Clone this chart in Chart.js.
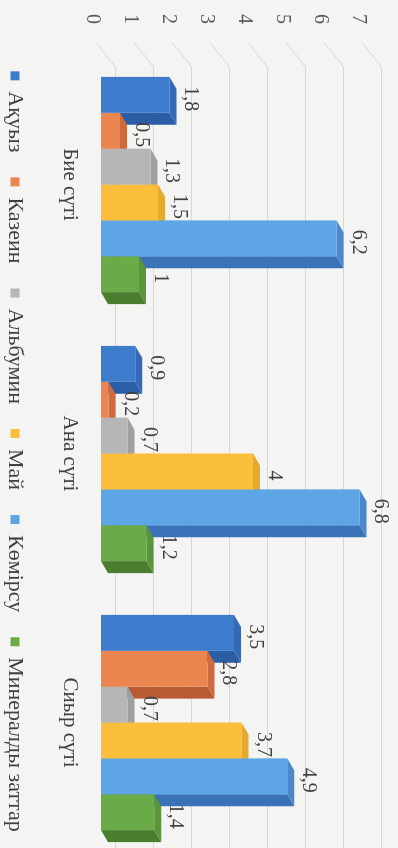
<!DOCTYPE html>
<html>
<head>
<meta charset="utf-8">
<script src="https://cdn.jsdelivr.net/npm/chart.js@4"></script>
<style>
  html, body { margin: 0; padding: 0; background: #f4f4f2; }
  body { width: 398px; height: 848px; overflow: hidden; position: relative; }
  /* the source is a photo of the chart turned a quarter clockwise */
  #wrap { position: absolute; left: 0; top: 0; width: 903px; height: 398px;
          transform-origin: 0 0; transform: translateX(398px) rotate(90deg); }
</style>
</head>
<body>
<div id="wrap"><canvas id="milkChart" width="903" height="398"></canvas></div>
<script>
const categories = ['Бие сүті', 'Ана сүті', 'Сиыр сүті'];
const seriesNames = ['Ақуыз', 'Казеин', 'Альбумин', 'Май', 'Көмірсу', 'Минералды заттар'];
const protein  = [1.8, 0.9, 3.5];
const casein   = [0.5, 0.2, 2.8];
const albumin  = [1.3, 0.7, 0.7];
const fat      = [1.5, 4, 3.7];
const carbs    = [6.2, 6.8, 4.9];
const minerals = [1, 1.2, 1.4];
const valueTicks = [0, 1, 2, 3, 4, 5, 6, 7];

const seriesValues = [protein, casein, albumin, fat, carbs, minerals];
const frontColors = ['#3d7ccc', '#ec8650', '#b6b6b6', '#fbbe3a', '#5ea5e6', '#6aab47'];
const sideColors  = ['#2c5ea6', '#b85a34', '#8c8c8c', '#d19a26', '#3a72b8', '#4a7d30'];
const topColors   = ['#3569b5', '#d06a3e', '#a0a0a0', '#e4aa2e', '#4a88cc', '#5a943b'];

const FONT = '"Liberation Serif", "DejaVu Serif", serif';
const DX = 12, DY = 7;   // fake 3d depth

function fmt(v) { return String(v).replace('.', ','); }

function poly(ctx, pts) {
  ctx.beginPath();
  ctx.moveTo(pts[0][0], pts[0][1]);
  for (let k = 1; k < pts.length; k++) ctx.lineTo(pts[k][0], pts[k][1]);
  ctx.closePath();
  ctx.fill();
}

// back wall grid, depth faces and value labels, all under the bar fronts
const bars3d = {
  id: 'bars3d',
  beforeDatasetsDraw(chart) {
    const ctx = chart.ctx;
    const area = chart.chartArea;
    const ys = chart.scales.y;
    ctx.save();

    ctx.strokeStyle = '#d6d6d6';
    ctx.lineWidth = 1;
    ys.ticks.forEach(t => {
      const py = Math.round(ys.getPixelForValue(t.value)) + 0.5;
      ctx.beginPath();
      ctx.moveTo(area.left - 7, py + 4);
      ctx.lineTo(area.left + 17, py - 15);
      ctx.lineTo(chart.width, py - 15);
      ctx.stroke();
    });

    chart.data.datasets.forEach((ds, i) => {
      chart.getDatasetMeta(i).data.forEach(el => {
        const l = el.x - el.width / 2, r = el.x + el.width / 2;
        ctx.fillStyle = sideColors[i];
        poly(ctx, [[r, el.y], [r + DX, el.y - DY], [r + DX, el.base - DY], [r, el.base]]);
        ctx.fillStyle = topColors[i];
        poly(ctx, [[l, el.y], [l + DX, el.y - DY], [r + DX, el.y - DY], [r, el.y]]);
      });
    });

    ctx.font = '20px ' + FONT;
    ctx.fillStyle = '#404040';
    ctx.textAlign = 'center';
    ctx.textBaseline = 'alphabetic';
    chart.data.datasets.forEach((ds, i) => {
      chart.getDatasetMeta(i).data.forEach((el, j) => {
        ctx.fillText(fmt(ds.data[j]), el.x + 4, el.y - 16);
      });
    });
    ctx.restore();
  }
};

function fixWidth(w) {
  return s => { s.width = w; s.paddingTop = 0; s.paddingBottom = 0; };
}

new Chart(document.getElementById('milkChart'), {
  type: 'bar',
  data: {
    labels: categories,
    datasets: seriesValues.map((d, i) => ({
      label: seriesNames[i],
      data: d,
      backgroundColor: frontColors[i],
      borderWidth: 0,
      categoryPercentage: 0.8,
      barPercentage: 1.0
    }))
  },
  options: {
    responsive: false,
    animation: false,
    layout: { padding: { top: 31, bottom: 0, left: 0, right: 0 } },
    plugins: {
      legend: {
        position: 'bottom',
        maxHeight: 51,
        labels: { font: { family: FONT, size: 22 }, color: '#404040', boxWidth: 9, boxHeight: 9, padding: 25 }
      },
      tooltip: { enabled: false }
    },
    scales: {
      x: {
        grid: { display: false, drawTicks: false },
        border: { display: false },
        ticks: { font: { family: FONT, size: 21 }, color: '#404040', padding: 19 },
        afterFit: s => { s.height = 50; }
      },
      y: {
        min: 0, max: 7,
        grid: { display: false, drawTicks: false },
        border: { display: false },
        ticks: { font: { family: FONT, size: 20 }, color: '#595959', padding: 26, labelOffset: 9 },
        afterBuildTicks: s => { s.ticks = valueTicks.map(v => ({ value: v })); },
        afterFit: fixWidth(50)
      },
      yR: {
        position: 'right',
        grid: { display: false, drawTicks: false },
        border: { display: false },
        ticks: { display: false },
        afterFit: fixWidth(46)
      }
    }
  },
  plugins: [bars3d]
});
</script>
</body>
</html>
